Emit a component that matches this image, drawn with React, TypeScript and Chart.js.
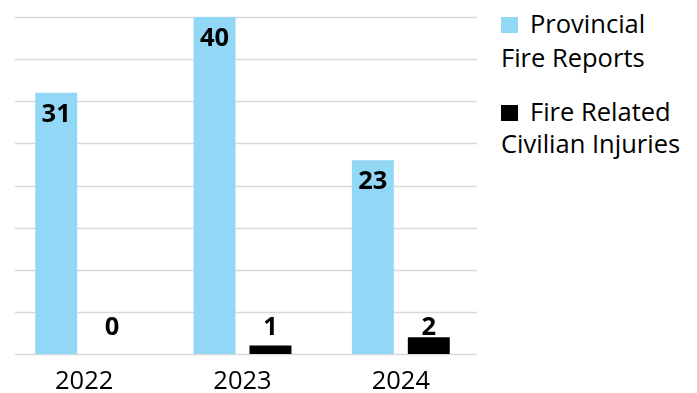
import React, { useEffect, useRef } from "react";
import { Chart, registerables } from "chart.js";

Chart.register(...registerables);

const categories = ["2022", "2023", "2024"];
const fireReports = [31, 40, 23];
const civilianInjuries = [0, 1, 2];
const seriesLabels = ["Provincial Fire Reports", "Fire Related Civilian Injuries"];
const legendLines = [
  ["Provincial", "Fire Reports"],
  ["Fire Related", "Civilian Injuries"],
];
const seriesColors = ["#92D8F6", "#000000"];
const yMax = 40;
const yStep = 5;

const FONT = "'Open Sans', 'DejaVu Sans', sans-serif";
const FS = 25.5;

const gridPlugin = {
  id: "customGrid",
  beforeDatasetsDraw(chart: any) {
    const { ctx, chartArea, scales } = chart;
    const y = scales.y;
    ctx.save();
    ctx.strokeStyle = "#D9D9D9";
    ctx.lineWidth = 1.5;
    for (let v = 0; v <= yMax; v += yStep) {
      const py = Math.round(y.getPixelForValue(v)) + 0.5;
      ctx.beginPath();
      ctx.moveTo(chartArea.left + 10, py);
      ctx.lineTo(chartArea.right - 3, py);
      ctx.stroke();
    }
    ctx.restore();
  },
};

const labelPlugin = {
  id: "valueLabels",
  afterDatasetsDraw(chart: any) {
    const { ctx, scales } = chart;
    const base = scales.y.getPixelForValue(0);
    ctx.save();
    ctx.font = `bold ${FS}px ${FONT}`;
    ctx.fillStyle = "#000";
    ctx.textAlign = "center";
    ctx.textBaseline = "alphabetic";
    chart.data.datasets.forEach((ds: any, di: number) => {
      const meta = chart.getDatasetMeta(di);
      meta.data.forEach((el: any, i: number) => {
        const val = ds.data[i];
        const yy = di === 0 ? el.y + 29 : base - 19;
        ctx.fillText(String(val), el.x, yy);
      });
    });
    ctx.restore();
  },
};

export default function App() {
  const ref = useRef<HTMLCanvasElement | null>(null);

  useEffect(() => {
    if (!ref.current) return;
    Chart.defaults.font.family = FONT;
    const chart = new Chart(ref.current, {
      type: "bar",
      data: {
        labels: categories,
        datasets: [
          {
            label: seriesLabels[0],
            data: fireReports,
            backgroundColor: seriesColors[0],
            categoryPercentage: 0.7066,
            barPercentage: 0.75,
          },
          {
            label: seriesLabels[1],
            data: civilianInjuries,
            backgroundColor: seriesColors[1],
            categoryPercentage: 0.7066,
            barPercentage: 0.75,
          },
        ],
      },
      options: {
        animation: false,
        responsive: false,
        devicePixelRatio: 1,
        layout: { padding: { left: 5, right: 10, top: 17, bottom: 0 } },
        plugins: {
          legend: { display: false },
          tooltip: { enabled: false },
        },
        scales: {
          x: {
            grid: { display: false, drawTicks: false, tickLength: 0 },
            border: { display: false },
            ticks: {
              color: "#000",
              font: { size: FS, family: FONT },
              padding: 12,
              maxRotation: 0,
            },
            afterFit: (scale: any) => {
              scale.height = 39;
            },
          },
          y: {
            display: false,
            min: 0,
            max: yMax,
            ticks: { stepSize: yStep },
          },
        },
      },
      plugins: [gridPlugin, labelPlugin],
    });
    return () => chart.destroy();
  }, []);

  const textStyle: React.CSSProperties = {
    fontFamily: FONT,
    fontSize: `${FS}px`,
    color: "#000",
    whiteSpace: "nowrap",
    margin: 0,
  };

  return (
    <div style={{ position: "absolute", left: 0, top: 0, width: 697, height: 393, background: "#fff" }}>
      <canvas ref={ref} width={490} height={393} style={{ position: "absolute", left: 0, top: 0, display: "block" }} />
      {legendLines.map((lines, i) => (
        <div
          key={i}
          style={{
            ...textStyle,
            position: "absolute",
            left: 501,
            top: i === 0 ? 6.4 : 94.8,
            lineHeight: i === 0 ? "34px" : "32px",
          }}
        >
          <div>
            <span
              style={{
                display: "inline-block",
                width: 17,
                height: 16,
                background: seriesColors[i],
                marginRight: 12,
                verticalAlign: "baseline",
              }}
            />
            {lines[0]}
          </div>
          <div>{lines[1]}</div>
        </div>
      ))}
    </div>
  );
}
